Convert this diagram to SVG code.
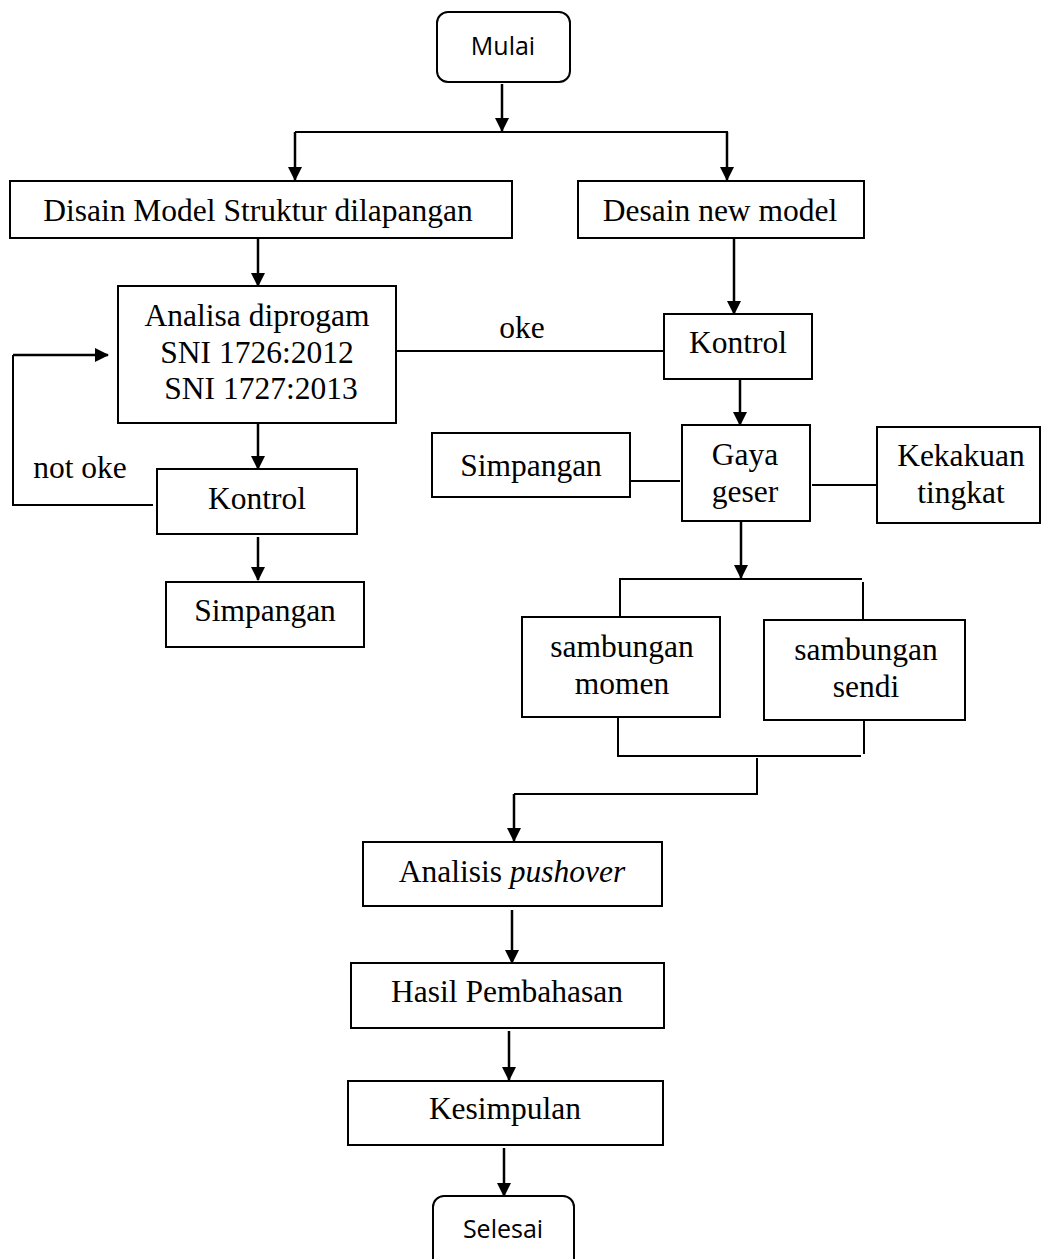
<svg xmlns="http://www.w3.org/2000/svg" width="1043" height="1259" viewBox="0 0 1043 1259">
<style>
.box{fill:#fff;stroke:#000;stroke-width:2}
.t{font-family:"Liberation Serif","Times New Roman",serif;font-size:31.5px;fill:#000;text-anchor:middle}
.s{font-family:"Open Sans","Liberation Sans",sans-serif;font-size:25px;fill:#000;text-anchor:middle}
.c{fill:none;stroke:#000;stroke-width:2}
.a{fill:none;stroke:#000;stroke-width:2.5;marker-end:url(#ah)}
</style>
<defs>
<marker id="ah" markerWidth="14" markerHeight="14" refX="13" refY="7" orient="auto" markerUnits="userSpaceOnUse">
<path d="M0,0 L14,7 L0,14 Z" fill="#000"/>
</marker>
</defs>
<rect width="1043" height="1259" fill="#fff"/>
<g id="connectors">
<path class="a" d="M502,84 V131"/>
<path class="c" d="M295,132 H728"/>
<path class="a" d="M295,132 V180"/>
<path class="a" d="M727,132 V180"/>
<path class="a" d="M258,238 V286"/>
<path class="a" d="M734,238 V314"/>
<path class="c" d="M397,351 H664"/>
<path class="a" d="M258,423 V469"/>
<path class="c" d="M153,505 H13 V355"/>
<path class="a" d="M13,355 H108"/>
<path class="a" d="M258,537 V580"/>
<path class="a" d="M740,379 V425"/>
<path class="c" d="M630,481 H680"/>
<path class="c" d="M812,485 H877"/>
<path class="a" d="M741,521 V578"/>
<path class="c" d="M620,616 V579 H862"/>
<path class="c" d="M863,582 V619"/>
<path class="c" d="M618,717 V756 H861"/>
<path class="c" d="M864,720 V754"/>
<path class="c" d="M757,758 V794 H514"/>
<path class="a" d="M514,794 V841"/>
<path class="a" d="M512,910 V963"/>
<path class="a" d="M509,1031 V1080"/>
<path class="a" d="M504,1148 V1196"/>
</g>
<g id="mulai"><rect class="box" x="437" y="12" width="133" height="70" rx="11"/><text class="s" x="503" y="55">Mulai</text></g>
<g id="disain"><rect class="box" x="10" y="181" width="502" height="57"/><text class="t" x="258" y="221">Disain Model Struktur dilapangan</text></g>
<g id="desain-new"><rect class="box" x="578" y="181" width="286" height="57"/><text class="t" x="720" y="221">Desain new model</text></g>
<g id="analisa"><rect class="box" x="118" y="286" width="278" height="137"/>
<text class="t" x="257" y="326">Analisa diprogam</text>
<text class="t" x="257" y="363">SNI 1726:2012</text>
<text class="t" x="261" y="399">SNI 1727:2013</text></g>
<g id="label-oke"><text class="t" x="522" y="338">oke</text></g>
<g id="label-not-oke"><text class="t" x="80" y="478">not oke</text></g>
<g id="kontrol-right"><rect class="box" x="664" y="314" width="148" height="65"/><text class="t" x="738" y="353">Kontrol</text></g>
<g id="kontrol-left"><rect class="box" x="157" y="469" width="200" height="65"/><text class="t" x="257" y="509">Kontrol</text></g>
<g id="simpangan-left"><rect class="box" x="166" y="582" width="198" height="65"/><text class="t" x="265" y="621">Simpangan</text></g>
<g id="simpangan-right"><rect class="box" x="432" y="433" width="198" height="64"/><text class="t" x="531" y="476">Simpangan</text></g>
<g id="gaya-geser"><rect class="box" x="682" y="425" width="128" height="96"/>
<text class="t" x="745" y="465">Gaya</text><text class="t" x="745" y="502">geser</text></g>
<g id="kekakuan"><rect class="box" x="877" y="427" width="163" height="96"/>
<text class="t" x="961" y="466">Kekakuan</text><text class="t" x="961" y="503">tingkat</text></g>
<g id="sambungan-momen"><rect class="box" x="522" y="617" width="198" height="100"/>
<text class="t" x="622" y="657">sambungan</text><text class="t" x="622" y="694">momen</text></g>
<g id="sambungan-sendi"><rect class="box" x="764" y="620" width="201" height="100"/>
<text class="t" x="866" y="660">sambungan</text><text class="t" x="866" y="697">sendi</text></g>
<g id="pushover"><rect class="box" x="363" y="842" width="299" height="64"/>
<text class="t" x="512" y="882">Analisis <tspan font-style="italic">pushover</tspan></text></g>
<g id="hasil"><rect class="box" x="351" y="963" width="313" height="65"/><text class="t" x="507" y="1002">Hasil Pembahasan</text></g>
<g id="kesimpulan"><rect class="box" x="348" y="1081" width="315" height="64"/><text class="t" x="505" y="1119">Kesimpulan</text></g>
<g id="selesai"><rect class="box" x="433" y="1196" width="141" height="75" rx="11"/><text class="s" x="503" y="1238">Selesai</text></g>
</svg>
